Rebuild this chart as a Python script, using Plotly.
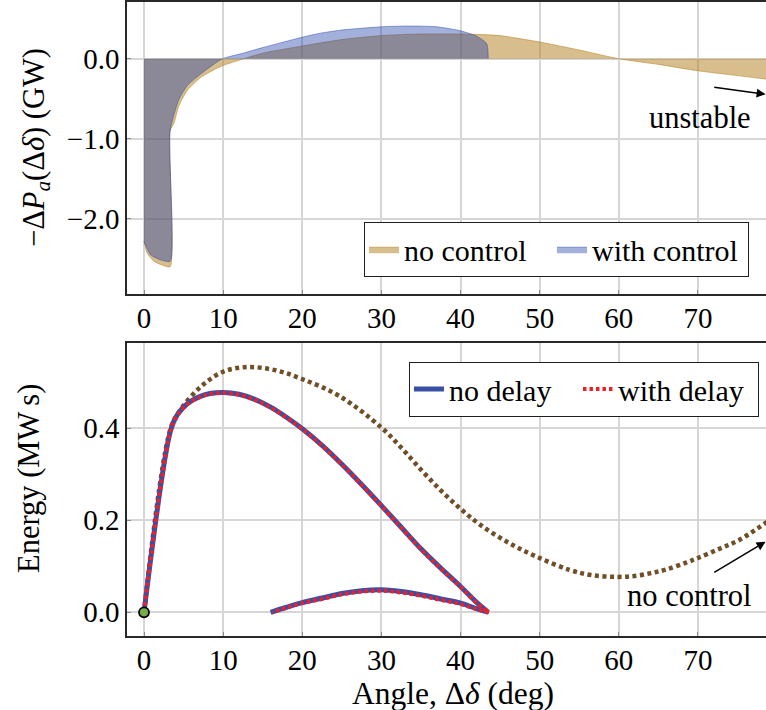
import plotly.graph_objects as go

# ---------------- data ----------------
# Top panel: -ΔPa(Δδ) in GW
nc_pa_x = [0, 0.4, 1.26, 2.2, 3.3, 3.3, 3.8, 4.4, 5.5, 7.2, 9.7, 12.6, 15, 20, 25, 30, 35, 40, 43.5, 45, 50, 55, 60, 65, 70, 75, 78.7, 80]
nc_pa_y = [-2.28, -2.43, -2.53, -2.575, -2.6, -0.9, -0.80, -0.59, -0.39, -0.23, -0.095, 0.0, 0.07, 0.16, 0.24, 0.29, 0.31, 0.31, 0.30, 0.29, 0.21, 0.11, 0.0, -0.07, -0.15, -0.21, -0.255, -0.27]

wc_pa_x = [0, 0.2, 0.84, 2.0, 3.3, 3.3, 4.4, 5.5, 7.6, 9.9, 12.5, 15, 20, 22.3, 25, 30, 33.5, 37, 40, 42, 43.3, 43.5]
wc_pa_y = [-2.28, -2.33, -2.45, -2.51, -2.53, -0.9, -0.51, -0.33, -0.157, 0.0, 0.07, 0.14, 0.27, 0.32, 0.36, 0.40, 0.41, 0.40, 0.35, 0.285, 0.19, 0.0]

# Bottom panel: energy in MW s
nc_e_x = [0, 3.37, 4.6, 7.15, 10, 13, 16.4, 20, 24.8, 29.9, 32.4, 35, 37.5, 40, 42.5, 46.2, 49.6, 53.8, 56.5, 59.7, 62, 64.3, 66, 68.5, 70, 72.7, 75.2, 78.7, 80]
nc_e_y = [0, 0.40, 0.44, 0.49, 0.523, 0.533, 0.527, 0.507, 0.469, 0.403, 0.36, 0.31, 0.265, 0.225, 0.19, 0.15, 0.121, 0.092, 0.081, 0.077, 0.079, 0.086, 0.093, 0.108, 0.118, 0.138, 0.157, 0.196, 0.21]

# "no delay": outward swing (0 -> 43.5 deg) and return swing (43.5 -> 16 deg)
nd_out_x = [0, 3.37, 4.2, 5.5, 7.2, 8.5, 10, 12, 14, 16, 18, 20, 22.5, 25, 27.5, 30, 32.5, 35, 37.5, 40, 42, 43.5]
nd_out_y = [0, 0.396, 0.429, 0.454, 0.47, 0.476, 0.478, 0.474, 0.463, 0.446, 0.424, 0.399, 0.363, 0.322, 0.278, 0.232, 0.185, 0.138, 0.096, 0.056, 0.022, 0.0]
nd_ret_x = [43.5, 42, 40, 37.5, 35, 32.5, 30, 27.5, 25, 22.5, 20, 18, 16]
nd_ret_y = [0.0, 0.008, 0.02, 0.029, 0.038, 0.045, 0.049, 0.047, 0.041, 0.031, 0.021, 0.011, 0.0]

# "with delay"
wd_out_x = [0, 3.37, 4.2, 5.5, 7.2, 8.5, 10, 12, 14, 16, 18, 20, 22.5, 25, 27.5, 30, 32.5, 35, 37.5, 40, 42, 43.6]
wd_out_y = [0, 0.395, 0.428, 0.453, 0.469, 0.475, 0.477, 0.473, 0.462, 0.445, 0.423, 0.398, 0.362, 0.321, 0.277, 0.231, 0.184, 0.137, 0.095, 0.055, 0.021, 0.0]
wd_ret_x = [43.6, 42, 40, 37.5, 35, 32.5, 30, 27.5, 25, 22.5, 20, 18, 16.2]
wd_ret_y = [0.0, 0.007, 0.018, 0.027, 0.036, 0.043, 0.047, 0.045, 0.039, 0.029, 0.02, 0.01, 0.0]

start_x = [0]
start_y = [0]

x_ticks = [0, 10, 20, 30, 40, 50, 60, 70]
top_y_ticks = [-2.0, -1.0, 0.0]
bot_y_ticks = [0.0, 0.2, 0.4]

# ---------------- figure ----------------
FONT = "Liberation Serif"
FS_TICK = 29
FS_TEXT = 30.5
FS_LEG = 30
TAN = "rgba(177,125,25,0.5)"
BLUE_FILL = "rgba(25,57,168,0.4)"
NODELAY = "rgb(58,80,165)"
WITHDELAY = "rgb(240,30,40)"
BROWN = "rgb(112,78,38)"

fig = go.Figure()

fig.add_trace(go.Scatter(x=nc_pa_x, y=nc_pa_y, mode="lines", fill="tozeroy",
                         fillcolor=TAN,
                         line=dict(color="rgba(177,125,25,0.65)", width=0.8, shape="spline", smoothing=0.6),
                         name="no control", legendgroup="nc", legendwidth=143,
                         xaxis="x", yaxis="y", legend="legend"))
fig.add_trace(go.Scatter(x=wc_pa_x, y=wc_pa_y, mode="lines", fill="tozeroy",
                         fillcolor=BLUE_FILL,
                         line=dict(color="rgba(25,57,168,0.55)", width=0.8, shape="spline", smoothing=0.6),
                         name="with control", legendgroup="wc", legendwidth=150,
                         xaxis="x", yaxis="y", legend="legend"))

fig.add_trace(go.Scatter(x=nc_e_x, y=nc_e_y, mode="lines",
                         line=dict(color=BROWN, width=4.5, dash="4px,3.5px", shape="spline", smoothing=1),
                         showlegend=False, xaxis="x2", yaxis="y2"))

fig.add_trace(go.Scatter(x=nd_out_x, y=nd_out_y, mode="lines",
                         line=dict(color=NODELAY, width=5, shape="spline", smoothing=1),
                         name="no delay", legendgroup="nd", legendwidth=124,
                         xaxis="x2", yaxis="y2", legend="legend2"))
fig.add_trace(go.Scatter(x=nd_ret_x, y=nd_ret_y, mode="lines",
                         line=dict(color=NODELAY, width=5, shape="spline", smoothing=1),
                         name="no delay", legendgroup="nd", showlegend=False, xaxis="x2", yaxis="y2"))
fig.add_trace(go.Scatter(x=wd_out_x, y=wd_out_y, mode="lines",
                         line=dict(color=WITHDELAY, width=4, dash="3.5px,3px", shape="spline", smoothing=1),
                         name="with delay", legendgroup="wd", legendwidth=134,
                         xaxis="x2", yaxis="y2", legend="legend2"))
fig.add_trace(go.Scatter(x=wd_ret_x, y=wd_ret_y, mode="lines",
                         line=dict(color=WITHDELAY, width=4, dash="3.5px,3px", shape="spline", smoothing=1),
                         name="with delay", legendgroup="wd", showlegend=False, xaxis="x2", yaxis="y2"))

fig.add_trace(go.Scatter(x=start_x, y=start_y, mode="markers",
                         marker=dict(color="rgb(120,172,70)", size=10, line=dict(color="black", width=1.8)),
                         showlegend=False, xaxis="x2", yaxis="y2", cliponaxis=False))

axis_common = dict(showgrid=True, gridcolor="rgb(214,214,214)", gridwidth=1.5,
                   showline=True, linecolor="rgb(40,40,40)", linewidth=1.5,
                   ticks="inside", ticklen=4, tickcolor="rgb(140,140,140)", tickwidth=1.2,
                   zeroline=False, tickfont=dict(family=FONT, size=FS_TICK, color="black"))

legend_common = dict(orientation="h", bgcolor="white", bordercolor="rgb(30,30,30)", borderwidth=1.2,
                     tracegroupgap=0, font=dict(family=FONT, size=FS_LEG, color="black"))

fig.update_layout(
    width=766, height=710,
    margin=dict(l=127, r=0, t=2, b=74),
    paper_bgcolor="white", plot_bgcolor="white",
    font=dict(family=FONT, size=FS_TEXT, color="black"),
    xaxis=dict(domain=[0, 1], range=[-2.15, 78.6], tickvals=x_ticks, anchor="y", mirror=True,
               ticklabelstandoff=-3, **axis_common),
    yaxis=dict(domain=[0.5394, 1.0], range=[-2.94, 0.71], tickvals=top_y_ticks, tickformat=".1f", anchor="x", **axis_common),
    xaxis2=dict(domain=[0, 1], range=[-2.15, 78.6], tickvals=x_ticks, anchor="y2", mirror=True,
                ticklabelstandoff=-3, **axis_common),
    yaxis2=dict(domain=[0, 0.4617], range=[-0.0515, 0.5848], tickvals=bot_y_ticks, tickformat=".1f", anchor="x2", **axis_common),
    legend=dict(x=0.9734, y=0.5662, xanchor="right", yanchor="bottom", **legend_common),
    legend2=dict(x=0.989, y=0.4326, xanchor="right", yanchor="top", **legend_common),
    showlegend=True,
)

annotations = [
    dict(text="\u2212\u0394<i>P</i><sub><i>a</i></sub>(\u0394<i>\u03b4</i>) (GW)", textangle=-90,
         xref="paper", yref="paper", x=-0.1424, y=0.7697, xanchor="center", yanchor="middle",
         showarrow=False, font=dict(family=FONT, size=FS_TEXT)),
    dict(text="Energy (MW\u2009s)", textangle=-90,
         xref="paper", yref="paper", x=-0.1534, y=0.2492, xanchor="center", yanchor="middle",
         showarrow=False, font=dict(family=FONT, size=FS_TEXT)),
    dict(text="Angle, \u0394<i>\u03b4</i> (deg)",
         xref="paper", yref="paper", x=0.510, y=-0.091, xanchor="center", yanchor="middle",
         showarrow=False, font=dict(family=FONT, size=31.5)),
    dict(text="unstable", xref="x", yref="y", x=70.3, y=-0.746, xanchor="center", yanchor="middle",
         showarrow=False, font=dict(family=FONT, size=FS_TEXT)),
    dict(text="", xref="x", yref="y", x=78.55, y=-0.444, axref="x", ayref="y", ax=71.87, ay=-0.3525,
         showarrow=True, arrowhead=2, arrowsize=1.2, arrowwidth=1.5, arrowcolor="black", standoff=0),
    dict(text="no control", xref="x2", yref="y2", x=68.9, y=0.0354, xanchor="center", yanchor="middle",
         showarrow=False, font=dict(family=FONT, size=FS_TEXT)),
    dict(text="", xref="x2", yref="y2", x=78.55, y=0.1535, axref="x2", ayref="y2", ax=71.87, ay=0.0848,
         showarrow=True, arrowhead=2, arrowsize=1.2, arrowwidth=1.5, arrowcolor="black", standoff=0),
]
fig.update_layout(annotations=annotations)

fig.write_html("out.html")
